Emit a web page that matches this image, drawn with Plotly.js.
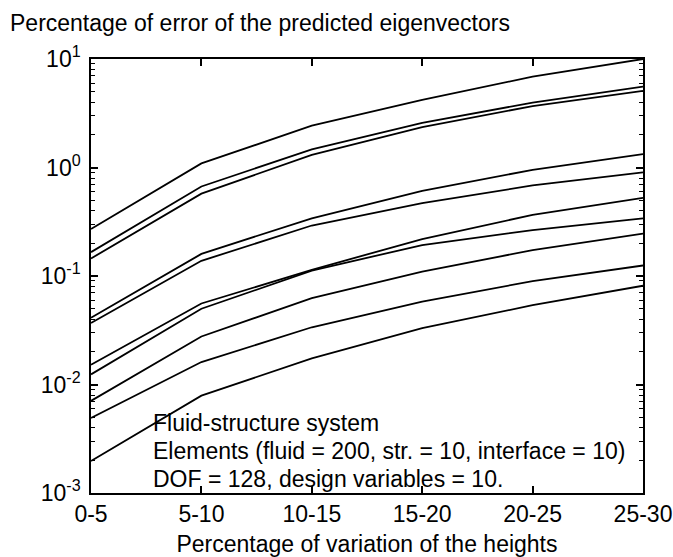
<!DOCTYPE html>
<html>
<head>
<meta charset="utf-8">
<script src="https://cdn.plot.ly/plotly-3.0.1.min.js"></script>
<style>
html,body{margin:0;padding:0;background:#fff;}
#chart{width:673px;height:557px;}
</style>
</head>
<body>
<div id="chart"></div>
<script>
const categories = ['0-5','5-10','10-15','15-20','20-25','25-30'];

const curve1  = [0.271, 1.09, 2.43, 4.21, 6.87, 10.0];
const curve2  = [0.166, 0.668, 1.47, 2.58, 3.96, 5.56];
const curve3  = [0.145, 0.574, 1.31, 2.36, 3.68, 5.08];
const curve4  = [0.0413, 0.160, 0.340, 0.610, 0.951, 1.33];
const curve5  = [0.0369, 0.138, 0.292, 0.469, 0.683, 0.902];
const curve6  = [0.0152, 0.0558, 0.114, 0.219, 0.366, 0.525];
const curve7  = [0.0124, 0.0499, 0.112, 0.193, 0.265, 0.340];
const curve8  = [0.00706, 0.0277, 0.0625, 0.110, 0.173, 0.246];
const curve9  = [0.00492, 0.0161, 0.0337, 0.058, 0.0897, 0.125];
const curve10 = [0.00197, 0.0079, 0.0174, 0.033, 0.0538, 0.0813];

const allCurves = [curve1, curve2, curve3, curve4, curve5, curve6, curve7, curve8, curve9, curve10];

const yTickVals = [0.001, 0.01, 0.1, 1, 10];
const yTickText = ['10<sup>-3</sup>', '10<sup>-2</sup>', '10<sup>-1</sup>', '10<sup>0</sup>', '10<sup>1</sup>'];

const titleText = 'Percentage of error of the predicted eigenvectors';
const xTitleText = 'Percentage of variation of the heights';
const noteLines = [
  'Fluid-structure system',
  'Elements (fluid = 200, str. = 10, interface = 10)',
  'DOF = 128, design variables = 10.'
];

const FONT = 'Liberation Sans, Arial, Helvetica, sans-serif';
const FS = 23;

const traces = allCurves.map(c => ({
  x: categories,
  y: c,
  type: 'scatter',
  mode: 'lines',
  line: {color: '#000', width: 1.8},
  showlegend: false,
  hoverinfo: 'skip'
}));

const noteY = [0.161, 0.097, 0.032];
const annotations = noteLines.map((t, i) => ({
  text: t,
  xref: 'paper', yref: 'paper',
  x: 0.108, y: noteY[i],
  xanchor: 'left', yanchor: 'middle',
  showarrow: false,
  font: {family: FONT, size: FS, color: '#000'}
}));

const layout = {
  width: 673, height: 557,
  margin: {l: 91, r: 30, t: 59, b: 64},
  paper_bgcolor: '#fff',
  plot_bgcolor: '#fff',
  font: {family: FONT, color: '#000', size: FS},
  title: {
    text: titleText,
    font: {family: FONT, size: FS, color: '#000'},
    xref: 'container', yref: 'container',
    x: 10/673, xanchor: 'left',
    y: 1 - 23/557, yanchor: 'middle'
  },
  xaxis: {
    type: 'category',
    range: [0, 5],
    showgrid: false,
    zeroline: false,
    showline: true, linecolor: '#000', linewidth: 1.5,
    mirror: 'ticks',
    ticks: 'inside', ticklen: 7, tickcolor: '#000', tickwidth: 1.5,
    tickfont: {family: FONT, size: FS, color: '#000'},
    title: {text: xTitleText, font: {family: FONT, size: FS, color: '#000'}, standoff: 10}
  },
  yaxis: {
    type: 'log',
    range: [-3, 1],
    showgrid: false,
    zeroline: false,
    showline: true, linecolor: '#000', linewidth: 1.5,
    mirror: 'ticks',
    ticks: 'inside', ticklen: 7, tickcolor: '#000', tickwidth: 1.5,
    tickmode: 'array', tickvals: yTickVals, ticktext: yTickText,
    tickfont: {family: FONT, size: FS, color: '#000'},
    ticklabelstandoff: 4,
    minor: {dtick: 'D1', ticks: 'inside', ticklen: 4, tickcolor: '#000', tickwidth: 1.2, showgrid: false}
  },
  annotations: annotations
};

Plotly.newPlot('chart', traces, layout, {displayModeBar: false});
</script>
</body>
</html>
